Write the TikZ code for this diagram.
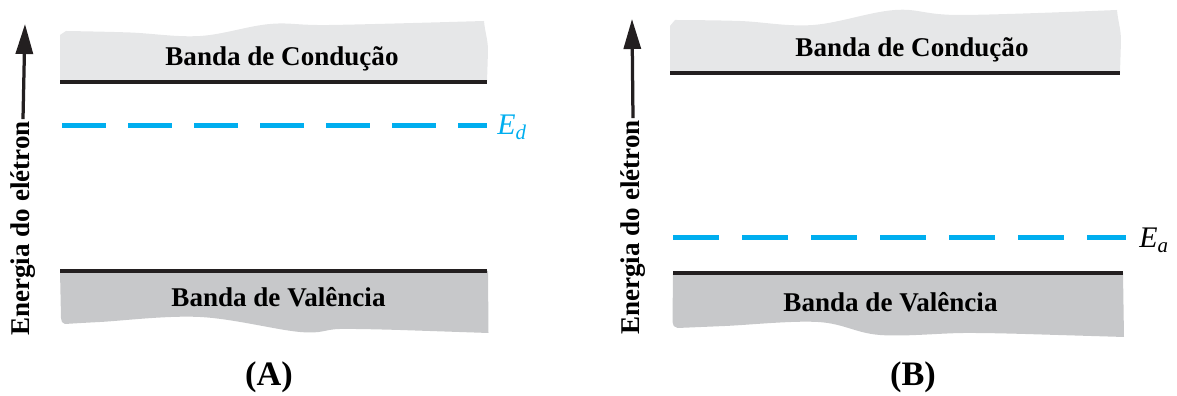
\documentclass[tikz,border=0pt]{standalone}
\usepackage{fontspec}
\setmainfont{Liberation Serif}
\usetikzlibrary{arrows.meta, positioning}
\definecolor{bandlight}{HTML}{E6E7E8}
\definecolor{banddark}{HTML}{C7C8CA}
\definecolor{levelblue}{HTML}{00AEEF}
\definecolor{edgeblack}{HTML}{231F20}

\begin{document}
\begin{tikzpicture}[
        bandlabel/.style={font=\fontsize{15.4}{18}\selectfont\bfseries, anchor=base, inner sep=0pt},
        axislabel/.style={font=\fontsize{15.4}{18}\selectfont\bfseries, rotate=90, inner sep=1pt},
        panellabel/.style={font=\fontsize{19.5}{22}\selectfont\bfseries, anchor=base, inner sep=0pt},
        levellabel/.style={font=\fontsize{17}{20}\selectfont, anchor=base west, inner sep=0pt},
        bandedge/.style={line width=0.08cm, edgeblack},
        energyarrow/.style={line width=0.065cm, edgeblack, -{Triangle[length=6mm, width=3.4mm]}}
    ]
    \useasboundingbox (0,0) rectangle (23.54,7.92);

    % (A) Energy axis
    \node[axislabel] (axisA) at (0.46,3.35) {Energia do elétron};
    \coordinate (tipA) at (0.5,7.44);
    \draw[energyarrow] (axisA.east) -- (tipA);

    % (A) Conduction band
    \fill[bandlight] (1.2,6.28) -- (1.2,7.22)
        -- plot[smooth, tension=0.6] coordinates {(1.32,7.3) (2.6,7.27) (4.0,7.2) (5.4,7.44) (6.6,7.42) (9.68,7.5)}
        to[out=-85, in=90] (9.76,6.9) -- (9.74,6.28) -- cycle;
    \draw[bandedge] (1.2,6.28) -- (9.73,6.28);
    \node[bandlabel] (condA) at (5.64,6.6) {Banda de Condução};

    % (A) Donor level
    \coordinate (dA0) at (1.24,5.4);
    \coordinate (dA1) at (9.74,5.4);
    \draw[line width=0.1cm, levelblue, dash pattern=on 0.88cm off 0.44cm] (dA0) -- (dA1);
    \node[levellabel, levelblue] (Ed) at (9.94,5.22) {\textit{E}\textsubscript{\textit{d}}};

    % (A) Valence band
    \fill[banddark] (1.2,2.5) -- (9.76,2.5) -- (9.77,1.26)
        -- plot[smooth, tension=0.6] coordinates {(8.0,1.32) (6.8,1.34) (6.0,1.28) (4.0,1.58) (2.0,1.48) (1.3,1.44)}
        to[out=180, in=-90] (1.22,1.56) -- cycle;
    \draw[bandedge] (1.2,2.5) -- (9.73,2.5);
    \node[bandlabel] (valA) at (5.57,1.78) {Banda de Valência};

    \node[panellabel] (panelA) at (5.38,0.2) {(A)};

    % (B) Energy axis
    \node[axislabel] (axisB) at (12.66,3.37) {Energia do elétron};
    \coordinate (tipB) at (12.64,7.54);
    \draw[energyarrow] (axisB.east) -- (tipB);

    % (B) Conduction band
    \fill[bandlight] (13.4,6.46) -- (13.4,7.4)
        -- plot[smooth, tension=0.6] coordinates {(13.5,7.52) (14.8,7.5) (16.26,7.42) (17.9,7.72) (19.2,7.62) (22.34,7.72)}
        to[out=-85, in=90] (22.42,7.1) -- (22.4,6.46) -- cycle;
    \draw[bandedge] (13.4,6.46) -- (22.4,6.46);
    \node[bandlabel] (condB) at (18.24,6.78) {Banda de Condução};

    % (B) Acceptor level
    \coordinate (aB0) at (13.46,3.16);
    \coordinate (aB1) at (22.52,3.16);
    \draw[line width=0.1cm, levelblue, dash pattern=on 0.92cm off 0.46cm] (aB0) -- (aB1);
    \node[levellabel, black] (Ea) at (22.78,2.96) {\textit{E}\textsubscript{\textit{a}}};

    % (B) Valence band
    \fill[banddark] (13.46,2.46) -- (22.46,2.46) -- (22.48,1.18)
        -- plot[smooth, tension=0.6] coordinates {(20.5,1.24) (19.28,1.26) (17.6,1.22) (16.36,1.48) (14.5,1.4) (13.55,1.36)}
        to[out=180, in=-90] (13.45,1.48) -- cycle;
    \draw[bandedge] (13.46,2.46) -- (22.46,2.46);
    \node[bandlabel] (valB) at (17.81,1.68) {Banda de Valência};

    \node[panellabel] (panelB) at (18.26,0.2) {(B)};
\end{tikzpicture}
\end{document}
